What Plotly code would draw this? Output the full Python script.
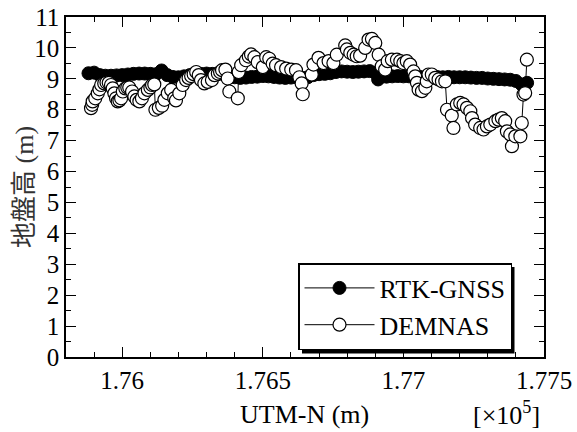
import plotly.graph_objects as go

# ---------------- data (metres) ----------------
rtk_n = [175880, 175900, 175920, 175940, 175960, 175980, 176000, 176020, 176040, 176060,
         176080, 176100, 176120, 176140, 176160, 176180, 176200, 176220, 176240, 176260,
         176280, 176300, 176320, 176340, 176360, 176380, 176400, 176420, 176440, 176460,
         176480, 176500, 176520, 176540, 176560, 176580, 176600, 176620, 176640, 176660,
         176680, 176700, 176720, 176740, 176760, 176780, 176800, 176820, 176840, 176860,
         176880, 176900, 176910, 176920, 176940, 176960, 176980, 177000, 177020, 177040,
         177060, 177080, 177100, 177120, 177140, 177160, 177180, 177200, 177220, 177240,
         177260, 177280, 177300, 177320, 177340, 177360, 177380, 177400, 177420, 177440]
rtk_h = [9.18, 9.20, 9.12, 9.10, 9.10, 9.11, 9.12, 9.14, 9.16, 9.17,
         9.17, 9.16, 9.15, 9.27, 9.12, 9.06, 9.05, 9.08, 9.12, 9.15,
         9.16, 9.17, 9.16, 9.15, 9.16, 9.11, 9.05, 9.03, 9.04, 9.06,
         9.07, 9.09, 9.08, 9.06, 9.04, 9.03, 9.04, 9.05, 9.03, 9.05,
         9.12, 9.15, 9.16, 9.18, 9.22, 9.24, 9.23, 9.22, 9.23, 9.24,
         9.25, 9.20, 8.98, 9.08, 9.07, 9.08, 9.09, 9.08, 9.08, 9.07,
         9.06, 9.06, 9.07, 9.06, 9.05, 9.06, 9.05, 9.05, 9.05, 9.04,
         9.03, 9.03, 9.01, 9.00, 8.99, 8.98, 8.97, 8.93, 8.82, 8.87]

dem_n = [175889, 175893, 175895, 175904, 175913, 175919, 175925, 175936, 175944, 175952,
         175960, 175966, 175972, 175978, 175984, 175990, 175996, 176002, 176011, 176018,
         176025, 176035, 176043, 176051, 176061, 176070, 176079, 176091, 176100, 176106,
         176114, 176118, 176130, 176142, 176150, 176162, 176174, 176185, 176191, 176203,
         176215, 176227, 176236, 176245, 176254, 176263, 176272, 176280, 176292, 176304,
         176319, 176328, 176340, 176348, 176355, 176367, 176375, 176381, 176411, 176414,
         176423, 176440, 176450, 176458, 176470, 176482, 176500, 176512, 176523, 176535,
         176547, 176565, 176583, 176601, 176618, 176630, 176638, 176642, 176674, 176680,
         176698, 176716, 176734, 176751, 176763, 176793, 176799, 176811, 176823, 176834,
         176846, 176864, 176876, 176888, 176900, 176912, 176923, 176935, 176944, 176959,
         176977, 176989, 177000, 177012, 177024, 177036, 177042, 177048, 177054, 177066,
         177078, 177083, 177089, 177101, 177113, 177125, 177137, 177149, 177155, 177172,
         177178, 177190, 177202, 177214, 177226, 177238, 177244, 177255, 177273, 177285,
         177297, 177309, 177327, 177338, 177350, 177362, 177368, 177380, 177386, 177398,
         177416, 177421, 177427, 177433, 177439]
dem_h = [8.05, 8.16, 8.27, 8.37, 8.53, 8.66, 8.80, 8.85, 8.88, 8.87,
         8.80, 8.69, 8.53, 8.37, 8.27, 8.30, 8.37, 8.59, 8.69, 8.72,
         8.72, 8.59, 8.43, 8.32, 8.27, 8.37, 8.53, 8.64, 8.72, 8.80,
         8.82, 8.00, 8.06, 8.13, 8.32, 8.53, 8.64, 8.37, 8.30, 8.53,
         8.80, 8.96, 9.03, 9.09, 9.15, 9.22, 9.12, 8.96, 8.85, 8.90,
         8.96, 9.12, 9.17, 9.22, 9.28, 9.30, 9.01, 8.59, 8.37, 9.22,
         9.44, 9.60, 9.72, 9.79, 9.70, 9.54, 9.38, 9.70, 9.65, 9.49,
         9.44, 9.38, 9.33, 9.30, 9.28, 9.05, 8.85, 8.50, 9.14, 9.46,
         9.68, 9.51, 9.57, 9.51, 9.78, 10.08, 9.95, 9.84, 9.78, 9.73,
         9.75, 10.00, 10.27, 10.29, 10.16, 9.78, 9.41, 9.30, 9.57, 9.62,
         9.62, 9.57, 9.51, 9.57, 9.46, 9.24, 9.08, 8.87, 8.65, 8.60,
         8.71, 8.92, 9.14, 9.14, 9.03, 8.98, 8.92, 8.92, 8.00, 7.81,
         7.41, 8.17, 8.22, 8.17, 8.06, 7.95, 7.73, 7.52, 7.41, 7.36,
         7.46, 7.52, 7.63, 7.68, 7.73, 7.63, 7.30, 7.20, 6.82, 7.14,
         7.14, 7.57, 8.49, 8.54, 9.62]

x_scale = 1e5  # axis shown in units of 10^5 m

FONT = "Liberation Serif, Times New Roman, Noto Sans CJK JP, serif"

fig = go.Figure()
fig.add_trace(go.Scatter(
    x=[v / x_scale for v in rtk_n], y=rtk_h, mode="lines+markers", name="RTK-GNSS",
    line=dict(color="black", width=1),
    marker=dict(symbol="circle", size=13, color="black", line=dict(color="black", width=1))))
fig.add_trace(go.Scatter(
    x=[v / x_scale for v in dem_n], y=dem_h, mode="lines+markers", name="DEMNAS",
    line=dict(color="black", width=1),
    marker=dict(symbol="circle", size=13, color="white", line=dict(color="black", width=1.2))))

axis_common = dict(showgrid=False, zeroline=False, showline=True, linecolor="black", linewidth=1.5,
                   mirror="ticks", ticks="inside", ticklen=10, tickwidth=1.2, tickcolor="black",
                   automargin=False,
                   tickfont=dict(family=FONT, size=25, color="black"))

# pixel -> paper helpers for the plot area (l=66, t=17, 478x340)
PW, PH, L, T = 478.0, 340.0, 66.0, 17.0
def px_x(p): return (p - L) / PW
def px_y(p): return (T + PH - p) / PH

fig.update_layout(
    width=577, height=432,
    margin=dict(l=66, r=33, t=17, b=75),
    paper_bgcolor="white", plot_bgcolor="white",
    font=dict(family=FONT, size=25, color="black"),
    xaxis=dict(range=[1.758, 1.775], tick0=1.76, dtick=0.005,
               minor=dict(dtick=0.001, ticks="inside", ticklen=5, tickwidth=1, tickcolor="black"),
               **axis_common),
    yaxis=dict(range=[0, 11], tick0=0, dtick=1,
               minor=dict(dtick=0.5, ticks="inside", ticklen=5, tickwidth=1, tickcolor="black"),
               **axis_common),
    showlegend=True,
    legend=dict(x=px_x(298), y=px_y(263), xanchor="left", yanchor="top", bgcolor="white",
                bordercolor="black", borderwidth=1.5, itemwidth=70,
                font=dict(family=FONT, size=26, color="black")),
    shapes=[dict(type="rect", xref="paper", yref="paper",
                 x0=px_x(302), x1=px_x(514.5), y0=px_y(353.5), y1=px_y(267),
                 fillcolor="black", line=dict(width=0), layer="above")],
    annotations=[
        dict(text="UTM-N (m)", xref="paper", yref="paper", x=0.498, y=-0.168,
             xanchor="center", yanchor="middle", showarrow=False,
             font=dict(family=FONT, size=26, color="black")),
        dict(text="[×10<sup>5</sup>]", xref="paper", yref="paper", x=0.922, y=-0.165,
             xanchor="center", yanchor="middle", showarrow=False,
             font=dict(family=FONT, size=26, color="black")),
        dict(text="地盤高 (m)", xref="paper", yref="paper", x=-0.088, y=0.5,
             xanchor="center", yanchor="middle", textangle=-90, showarrow=False,
             font=dict(family=FONT, size=26, color="#333")),
    ],
)

fig.write_html("out.html", config={"displayModeBar": False},
               post_script="document.body.style.margin='0';")
